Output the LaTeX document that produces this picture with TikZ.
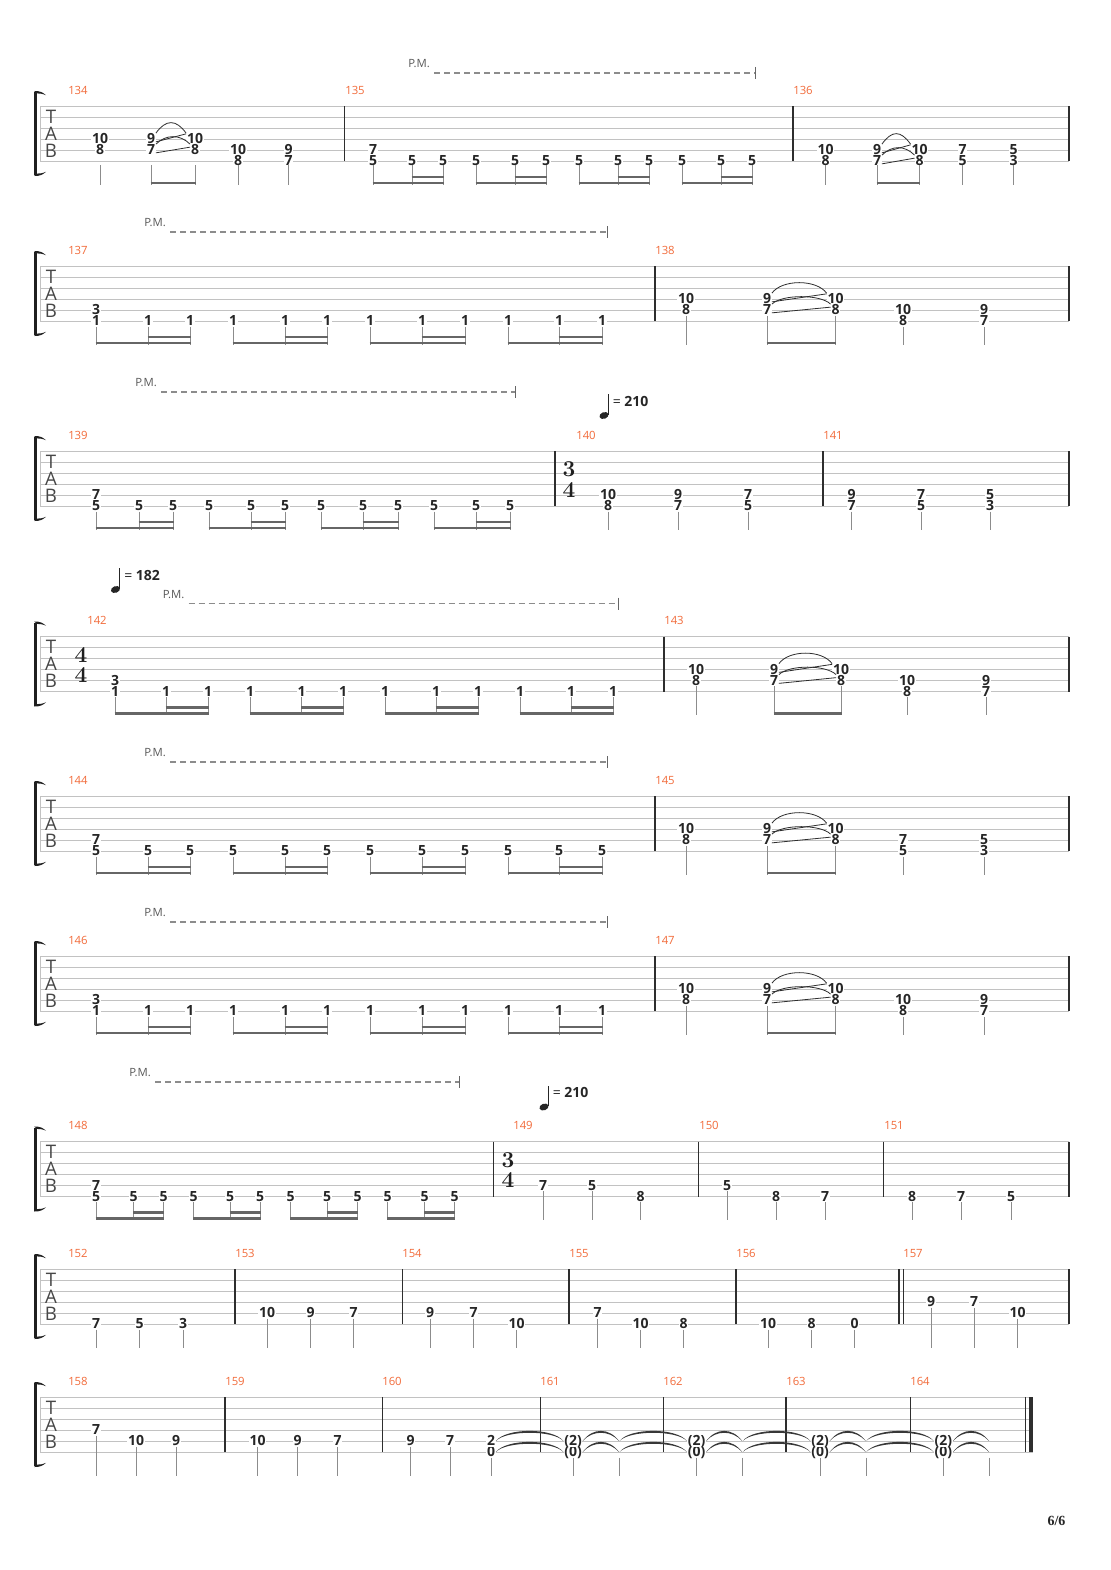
\documentclass[tikz,border=0pt]{standalone}
\usepackage{fontspec}
\newfontfamily\tabfont{Open Sans}
\newfontfamily\pagefont{Liberation Serif}
\definecolor{numorange}{HTML}{F26B3A}

\newcommand\tabstaff[2]{%
  \foreach \k in {0,...,5} {\draw[string] (40,11*\k) -- (#2,11*\k);}
  \draw[string] (40.5,0) -- (40.5,55);
  \draw[brace] (35.5,-14) -- (35.5,69);
  \fill[bracefill] (34.2,-15) .. controls (40,-15.2) and (43,-13.5) .. (46,-10.8) .. controls (42.5,-12.3) and (39.5,-12.8) .. (36.8,-12.6) -- cycle;
  \fill[bracefill] (34.2,70) .. controls (40,70.2) and (43,68.5) .. (46,65.8) .. controls (42.5,67.3) and (39.5,67.8) .. (36.8,67.6) -- cycle;
  \node[clef] (T#1) at (51,10.5) {T};
  \node[clef] (A#1) at (51,27.5) {A};
  \node[clef] (B#1) at (51,44.5) {B};
}
\newcommand\tbar[1]{\draw[barline] (#1,0) -- (#1,55);}
\newcommand\mnum[2]{\node[barnum] (m#2) at (#1,-16) {#2};}
\newcommand\palm[4]{%
  \node[pmtext] (pm#1) at (#2,#3) {P.M.};
  \coordinate (pme#1) at (#4,#3+9);
  \draw[pmline] (pm#1.east) ++(4,9) -- (pme#1);
  \draw[pmtick] (pme#1) ++(0,-6) -- ++(0,12);
}
\newcommand\tempo[4]{%
  \fill[notehead, rotate around={20:(#2,#3)}] (#2,#3) ellipse (4.7 and 3.3);
  \draw[notestem] (#2+4.2,#3-1) -- (#2+4.2,#3-21.5);
  \node[tempotext] (bpm#1) at (#2+8.5,#3-14.5) {= \textbf{#4}};
}
\newcommand\meter[3]{%
  \node[meterdigit] (ts#3a) at (#1,18.5) {#2};
  \node[meterdigit] (ts#3b) at (#1,39) {4};
}
\newcommand\nt[4]{%
  \foreach \sn/\fn [count=\i] in {#4}
    {\node[fret] (#1-\i) at (#2,{11*(\sn-1)}) {\fn};}
  \coordinate (#1-top) at (#2,#3);
  \coordinate (#1-sec) at (#2,71);
  \coordinate (#1-end) at (#2,77);
  \coordinate (#1-tip) at (#2,78.5);
  \draw[stem] (#1-top) -- (#1-tip);
}
\newcommand\gh[2]{%
  \node[ghost] (#1-1) at (#2,55) {};
  \node[ghost] (#1-2) at (#2,44) {};
  \coordinate (#1-top) at (#2,60.5);
  \coordinate (#1-tip) at (#2,78.5);
  \draw[stem] (#1-top) -- (#1-tip);
}
\newcommand\trip[3]{\draw[beam] (#1-end) -- (#3-end); \draw[beamtwo] (#2-sec) -- (#3-sec);}
\newcommand\duo[2]{\draw[beam] (#1-end) -- (#2-end);}
\newcommand\hp[2]{%
  \draw[slur] (#1-1.north east) .. controls +(10,-14) and +(-10,-14) .. (#2-1.north west);
  \draw[slur] (#1-2.north east) .. controls +(10,-10) and +(-10,-10) .. (#2-2.north west);
  \draw[slur] (#1-1.-30) -- (#2-1.150);
  \draw[slur] (#1-2.-30) -- (#2-2.150);
}
\newcommand\ti[2]{%
  \fill[tie] (#1-1.east) .. controls +(10,-13.5) and +(-10,-13.5) .. (#2-1.west) .. controls +(-10,-11) and +(10,-11) .. (#1-1.east) -- cycle;
  \fill[tie] (#1-2.east) .. controls +(10,-13.5) and +(-10,-13.5) .. (#2-2.west) .. controls +(-10,-11) and +(10,-11) .. (#1-2.east) -- cycle;
}

\begin{document}
\begin{tikzpicture}[x=0.75pt,y=-0.75pt]
\tikzset{string/.style={draw=black!24, line width=0.75pt}}
\tikzset{barline/.style={draw=black!82, line width=0.9pt}}
\tikzset{brace/.style={draw=black!88, line width=2pt}}
\tikzset{bracefill/.style={fill=black!88}}
\tikzset{clef/.style={font=\tabfont\fontsize{14}{14}\selectfont, text=black!72, inner sep=0pt}}
\tikzset{barnum/.style={font=\tabfont\fontsize{8.5}{10}\selectfont, text=numorange, anchor=west, inner sep=0pt}}
\tikzset{pmtext/.style={font=\tabfont\fontsize{8.5}{10}\selectfont, text=black!65, anchor=west, inner sep=0pt}}
\tikzset{pmline/.style={draw=black!45, line width=1pt, dash pattern=on 4.5pt off 3pt}}
\tikzset{pmtick/.style={draw=black!60, line width=0.75pt}}
\tikzset{notehead/.style={fill=black!85}}
\tikzset{notestem/.style={draw=black!85, line width=0.8pt}}
\tikzset{tempotext/.style={font=\tabfont\fontsize{10.5}{12}\selectfont, text=black!85, anchor=west, inner sep=0pt}}
\tikzset{meterdigit/.style={font=\bfseries\fontsize{17}{17}\selectfont, text=black!88, inner sep=0pt, text height=11pt, text depth=0pt}}
\tikzset{fret/.style={font=\tabfont\bfseries\fontsize{10.5}{12}\selectfont, text=black!85, fill=white, inner sep=0.5pt, text height=7.4pt, text depth=0pt}}
\tikzset{ghost/.style={inner sep=0pt, minimum size=0pt}}
\tikzset{stem/.style={draw=black!45, line width=0.75pt}}
\tikzset{beam/.style={draw=black!60, line width=2pt, shorten <=-0.375pt, shorten >=-0.375pt}}
\tikzset{beamtwo/.style={draw=black!60, line width=1.7pt, shorten <=-0.375pt, shorten >=-0.375pt}}
\tikzset{slur/.style={draw=black!82, line width=0.6pt}}
\tikzset{tie/.style={fill=black!78}}
\tikzset{pagenum/.style={font=\pagefont\bfseries\fontsize{10.5}{12}\selectfont, text=black!85, inner sep=0pt}}

\fill[white] (0,0) rectangle (1110,1570);
\useasboundingbox (0,0) rectangle (1110,1570);

\begin{scope}[shift={(0,106)}]
\tabstaff{1}{1069}
\tbar{344.7} \tbar{793} \tbar{1069}
\mnum{68}{134} \mnum{345}{135} \mnum{793}{136}
\palm{1}{408}{-42}{755}
\nt{n134a}{100}{59}{4/10,5/8}
\nt{n134b}{151}{59}{4/9,5/7}
\nt{n134c}{195}{59}{4/10,5/8}
\nt{n134d}{238}{59}{5/10,6/8}
\nt{n134e}{288.5}{59}{5/9,6/7}
\duo{n134b}{n134c} \hp{n134b}{n134c}
\nt{n135a}{373}{59}{5/7,6/5} \nt{n135b}{412}{59}{6/5} \nt{n135c}{443}{59}{6/5}
\nt{n135d}{476}{59}{6/5} \nt{n135e}{515}{59}{6/5} \nt{n135f}{546}{59}{6/5}
\nt{n135g}{579}{59}{6/5} \nt{n135h}{618}{59}{6/5} \nt{n135i}{649}{59}{6/5}
\nt{n135j}{682}{59}{6/5} \nt{n135k}{721}{59}{6/5} \nt{n135l}{752}{59}{6/5}
\trip{n135a}{n135b}{n135c} \trip{n135d}{n135e}{n135f}
\trip{n135g}{n135h}{n135i} \trip{n135j}{n135k}{n135l}
\nt{n136a}{825.5}{59}{5/10,6/8}
\nt{n136b}{877}{59}{5/9,6/7}
\nt{n136c}{919.5}{59}{5/10,6/8}
\nt{n136d}{962.5}{59}{5/7,6/5}
\nt{n136e}{1013.5}{59}{5/5,6/3}
\duo{n136b}{n136c} \hp{n136b}{n136c}
\end{scope}

\begin{scope}[shift={(0,266)}]
\tabstaff{2}{1069}
\tbar{655} \tbar{1069}
\mnum{68}{137} \mnum{655}{138}
\palm{2}{144}{-43}{607}
\nt{n137a}{96}{60.5}{5/3,6/1} \nt{n137b}{148}{60.5}{6/1} \nt{n137c}{190}{60.5}{6/1}
\nt{n137d}{233}{60.5}{6/1} \nt{n137e}{285}{60.5}{6/1} \nt{n137f}{327}{60.5}{6/1}
\nt{n137g}{370}{60.5}{6/1} \nt{n137h}{422}{60.5}{6/1} \nt{n137i}{465}{60.5}{6/1}
\nt{n137j}{508}{60.5}{6/1} \nt{n137k}{559}{60.5}{6/1} \nt{n137l}{602}{60.5}{6/1}
\trip{n137a}{n137b}{n137c} \trip{n137d}{n137e}{n137f}
\trip{n137g}{n137h}{n137i} \trip{n137j}{n137k}{n137l}
\nt{n138a}{686}{49.5}{4/10,5/8}
\nt{n138b}{767}{49.5}{4/9,5/7}
\nt{n138c}{835.5}{49.5}{4/10,5/8}
\nt{n138d}{903}{60.5}{5/10,6/8}
\nt{n138e}{984}{60.5}{5/9,6/7}
\duo{n138b}{n138c} \hp{n138b}{n138c}
\end{scope}

\begin{scope}[shift={(0,451)}]
\tabstaff{3}{1069}
\tbar{555} \tbar{823} \tbar{1069}
\mnum{68}{139} \mnum{576}{140} \mnum{823}{141}
\meter{569}{3}{140}
\palm{3}{135}{-68}{515}
\tempo{1}{604}{-35.5}{210}
\nt{n139a}{96}{60.5}{5/7,6/5} \nt{n139b}{139}{60.5}{6/5} \nt{n139c}{173}{60.5}{6/5}
\nt{n139d}{209}{60.5}{6/5} \nt{n139e}{251}{60.5}{6/5} \nt{n139f}{285}{60.5}{6/5}
\nt{n139g}{321}{60.5}{6/5} \nt{n139h}{363}{60.5}{6/5} \nt{n139i}{398}{60.5}{6/5}
\nt{n139j}{434}{60.5}{6/5} \nt{n139k}{476}{60.5}{6/5} \nt{n139l}{510}{60.5}{6/5}
\trip{n139a}{n139b}{n139c} \trip{n139d}{n139e}{n139f}
\trip{n139g}{n139h}{n139i} \trip{n139j}{n139k}{n139l}
\nt{n140a}{608}{60.5}{5/10,6/8}
\nt{n140b}{678}{60.5}{5/9,6/7}
\nt{n140c}{748}{60.5}{5/7,6/5}
\nt{n141a}{851.5}{60.5}{5/9,6/7}
\nt{n141b}{921}{60.5}{5/7,6/5}
\nt{n141c}{990}{60.5}{5/5,6/3}
\end{scope}

\begin{scope}[shift={(0,636.5)}]
\tabstaff{4}{1069}
\tbar{664} \tbar{1069}
\mnum{87}{142} \mnum{664}{143}
\meter{81}{4}{142}
\tempo{2}{115.5}{-47}{182}
\palm{4}{162.5}{-42}{618}
\nt{n142a}{115}{60.5}{5/3,6/1} \nt{n142b}{166}{60.5}{6/1} \nt{n142c}{208}{60.5}{6/1}
\nt{n142d}{250}{60.5}{6/1} \nt{n142e}{301.5}{60.5}{6/1} \nt{n142f}{343}{60.5}{6/1}
\nt{n142g}{385}{60.5}{6/1} \nt{n142h}{436}{60.5}{6/1} \nt{n142i}{478}{60.5}{6/1}
\nt{n142j}{520}{60.5}{6/1} \nt{n142k}{571}{60.5}{6/1} \nt{n142l}{613}{60.5}{6/1}
\trip{n142a}{n142b}{n142c} \trip{n142d}{n142e}{n142f}
\trip{n142g}{n142h}{n142i} \trip{n142j}{n142k}{n142l}
\nt{n143a}{696}{49.5}{4/10,5/8}
\nt{n143b}{774}{49.5}{4/9,5/7}
\nt{n143c}{841}{49.5}{4/10,5/8}
\nt{n143d}{907}{60.5}{5/10,6/8}
\nt{n143e}{986}{60.5}{5/9,6/7}
\duo{n143b}{n143c} \hp{n143b}{n143c}
\end{scope}

\begin{scope}[shift={(0,796)}]
\tabstaff{5}{1069}
\tbar{655} \tbar{1069}
\mnum{68}{144} \mnum{655}{145}
\palm{5}{144}{-43}{607}
\nt{n144a}{96}{60.5}{5/7,6/5} \nt{n144b}{148}{60.5}{6/5} \nt{n144c}{190}{60.5}{6/5}
\nt{n144d}{233}{60.5}{6/5} \nt{n144e}{285}{60.5}{6/5} \nt{n144f}{327}{60.5}{6/5}
\nt{n144g}{370}{60.5}{6/5} \nt{n144h}{422}{60.5}{6/5} \nt{n144i}{465}{60.5}{6/5}
\nt{n144j}{508}{60.5}{6/5} \nt{n144k}{559}{60.5}{6/5} \nt{n144l}{602}{60.5}{6/5}
\trip{n144a}{n144b}{n144c} \trip{n144d}{n144e}{n144f}
\trip{n144g}{n144h}{n144i} \trip{n144j}{n144k}{n144l}
\nt{n145a}{686}{49.5}{4/10,5/8}
\nt{n145b}{767}{49.5}{4/9,5/7}
\nt{n145c}{835.5}{49.5}{4/10,5/8}
\nt{n145d}{903}{60.5}{5/7,6/5}
\nt{n145e}{984}{60.5}{5/5,6/3}
\duo{n145b}{n145c} \hp{n145b}{n145c}
\end{scope}

\begin{scope}[shift={(0,956)}]
\tabstaff{6}{1069}
\tbar{655} \tbar{1069}
\mnum{68}{146} \mnum{655}{147}
\palm{6}{144}{-43}{607}
\nt{n146a}{96}{60.5}{5/3,6/1} \nt{n146b}{148}{60.5}{6/1} \nt{n146c}{190}{60.5}{6/1}
\nt{n146d}{233}{60.5}{6/1} \nt{n146e}{285}{60.5}{6/1} \nt{n146f}{327}{60.5}{6/1}
\nt{n146g}{370}{60.5}{6/1} \nt{n146h}{422}{60.5}{6/1} \nt{n146i}{465}{60.5}{6/1}
\nt{n146j}{508}{60.5}{6/1} \nt{n146k}{559}{60.5}{6/1} \nt{n146l}{602}{60.5}{6/1}
\trip{n146a}{n146b}{n146c} \trip{n146d}{n146e}{n146f}
\trip{n146g}{n146h}{n146i} \trip{n146j}{n146k}{n146l}
\nt{n147a}{686}{49.5}{4/10,5/8}
\nt{n147b}{767}{49.5}{4/9,5/7}
\nt{n147c}{835.5}{49.5}{4/10,5/8}
\nt{n147d}{903}{60.5}{5/10,6/8}
\nt{n147e}{984}{60.5}{5/9,6/7}
\duo{n147b}{n147c} \hp{n147b}{n147c}
\end{scope}

\begin{scope}[shift={(0,1141.5)}]
\tabstaff{7}{1069}
\tbar{493.5} \tbar{698.5} \tbar{883.5} \tbar{1069}
\mnum{68}{148} \mnum{513}{149} \mnum{699}{150} \mnum{884}{151}
\meter{508}{3}{149}
\palm{7}{129}{-68.5}{459}
\tempo{3}{544}{-34.5}{210}
\nt{n148a}{96}{60.5}{5/7,6/5} \nt{n148b}{133.5}{60.5}{6/5} \nt{n148c}{163.5}{60.5}{6/5}
\nt{n148d}{193.5}{60.5}{6/5} \nt{n148e}{230}{60.5}{6/5} \nt{n148f}{260}{60.5}{6/5}
\nt{n148g}{290.5}{60.5}{6/5} \nt{n148h}{327}{60.5}{6/5} \nt{n148i}{357.5}{60.5}{6/5}
\nt{n148j}{387.5}{60.5}{6/5} \nt{n148k}{424.5}{60.5}{6/5} \nt{n148l}{454.5}{60.5}{6/5}
\trip{n148a}{n148b}{n148c} \trip{n148d}{n148e}{n148f}
\trip{n148g}{n148h}{n148i} \trip{n148j}{n148k}{n148l}
\nt{n149a}{543}{49.5}{5/7} \nt{n149b}{592}{49.5}{5/5} \nt{n149c}{640.5}{60.5}{6/8}
\nt{n150a}{727}{49.5}{5/5} \nt{n150b}{776}{60.5}{6/8} \nt{n150c}{825}{60.5}{6/7}
\nt{n151a}{912}{60.5}{6/8} \nt{n151b}{961}{60.5}{6/7} \nt{n151c}{1011}{60.5}{6/5}
\end{scope}

\begin{scope}[shift={(0,1269)}]
\tabstaff{8}{1069}
\tbar{235} \tbar{402.3} \tbar{569} \tbar{736} \tbar{899} \tbar{903.3} \tbar{1069}
\mnum{68}{152} \mnum{235}{153} \mnum{402}{154} \mnum{569}{155} \mnum{736}{156} \mnum{903}{157}
\nt{n152a}{96}{60.5}{6/7} \nt{n152b}{139.5}{60.5}{6/5} \nt{n152c}{183}{60.5}{6/3}
\nt{n153a}{267}{49.5}{5/10} \nt{n153b}{310.5}{49.5}{5/9} \nt{n153c}{353.5}{49.5}{5/7}
\nt{n154a}{430}{49.5}{5/9} \nt{n154b}{473.5}{49.5}{5/7} \nt{n154c}{516.5}{60.5}{6/10}
\nt{n155a}{597.5}{49.5}{5/7} \nt{n155b}{640.5}{60.5}{6/10} \nt{n155c}{683.5}{60.5}{6/8}
\nt{n156a}{768}{60.5}{6/10} \nt{n156b}{811.5}{60.5}{6/8} \nt{n156c}{854.5}{60.5}{6/0}
\nt{n157a}{931}{38.5}{4/9} \nt{n157b}{974}{38.5}{4/7} \nt{n157c}{1017.5}{49.5}{5/10}
\end{scope}

\begin{scope}[shift={(0,1397)}]
\tabstaff{9}{1033}
\tbar{225} \tbar{382.3} \tbar{540.5} \tbar{663.3} \tbar{786} \tbar{910.5} \tbar{1025.7}
\fill[black!82] (1029,-0.4) rectangle (1033,55.4);
\mnum{68}{158} \mnum{225}{159} \mnum{382}{160} \mnum{540}{161} \mnum{663}{162} \mnum{786}{163} \mnum{910}{164}
\nt{n158a}{96}{38.5}{4/7} \nt{n158b}{136}{49.5}{5/10} \nt{n158c}{176}{49.5}{5/9}
\nt{n159a}{257.5}{49.5}{5/10} \nt{n159b}{297.5}{49.5}{5/9} \nt{n159c}{337.5}{49.5}{5/7}
\nt{n160a}{410.5}{49.5}{5/9} \nt{n160b}{450}{49.5}{5/7} \nt{n160c}{491}{60.5}{6/0,5/2}
\nt{n161a}{573}{60.5}{6/{(0)},5/{(2)}} \gh{n161b}{619.3}
\nt{n162a}{696.5}{60.5}{6/{(0)},5/{(2)}} \gh{n162b}{742.5}
\nt{n163a}{820}{60.5}{6/{(0)},5/{(2)}} \gh{n163b}{866}
\nt{n164a}{943.3}{60.5}{6/{(0)},5/{(2)}} \gh{n164b}{989.3}
\ti{n160c}{n161a} \ti{n161a}{n161b} \ti{n161b}{n162a} \ti{n162a}{n162b}
\ti{n162b}{n163a} \ti{n163a}{n163b} \ti{n163b}{n164a} \ti{n164a}{n164b}
\end{scope}

\node[pagenum] (page) at (1056.5,1520.5) {6/6};
\end{tikzpicture}
\end{document}
